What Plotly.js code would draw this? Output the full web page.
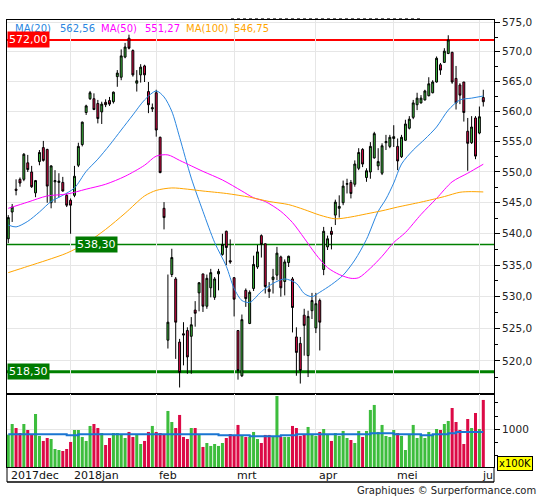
<!DOCTYPE html>
<html><head><meta charset="utf-8">
<script src="https://cdn.plot.ly/plotly-3.0.1.min.js"></script>
<style>html,body{margin:0;padding:0;background:#fff}#chart{width:545px;height:500px}</style>
</head><body><div id="chart"></div>
<script>
// ---- Data (AEX daily, Dec 2017 - Jun 2018) ----
const dates = [
'2017-12-06','2017-12-07','2017-12-08','2017-12-11','2017-12-12','2017-12-13','2017-12-14','2017-12-15','2017-12-18','2017-12-19','2017-12-20','2017-12-21','2017-12-22','2017-12-27','2017-12-28','2017-12-29',
'2018-01-02','2018-01-03','2018-01-04','2018-01-05','2018-01-08','2018-01-09','2018-01-10','2018-01-11','2018-01-12','2018-01-15','2018-01-16','2018-01-17','2018-01-18','2018-01-19','2018-01-22','2018-01-23','2018-01-24','2018-01-25','2018-01-26','2018-01-29','2018-01-30','2018-01-31',
'2018-02-01','2018-02-02','2018-02-05','2018-02-06','2018-02-07','2018-02-08','2018-02-09','2018-02-12','2018-02-13','2018-02-14','2018-02-15','2018-02-16','2018-02-19','2018-02-20','2018-02-21','2018-02-22','2018-02-23','2018-02-26','2018-02-27','2018-02-28',
'2018-03-01','2018-03-02','2018-03-05','2018-03-06','2018-03-07','2018-03-08','2018-03-09','2018-03-12','2018-03-13','2018-03-14','2018-03-15','2018-03-16','2018-03-19','2018-03-20','2018-03-21','2018-03-22','2018-03-23','2018-03-26','2018-03-27','2018-03-28','2018-03-29',
'2018-04-03','2018-04-04','2018-04-05','2018-04-06','2018-04-09','2018-04-10','2018-04-11','2018-04-12','2018-04-13','2018-04-16','2018-04-17','2018-04-18','2018-04-19','2018-04-20','2018-04-23','2018-04-24','2018-04-25','2018-04-26','2018-04-27','2018-04-30',
'2018-05-02','2018-05-03','2018-05-04','2018-05-07','2018-05-08','2018-05-09','2018-05-10','2018-05-11','2018-05-14','2018-05-15','2018-05-16','2018-05-17','2018-05-18','2018-05-21','2018-05-22','2018-05-23','2018-05-24','2018-05-25','2018-05-28','2018-05-29','2018-05-30','2018-05-31',
'2018-06-01','2018-06-04'];

const open = [539.2,543.5,547.2,548.8,548.8,551.5,550.0,546.6,551.7,554.0,553.7,545.0,548.4,548.3,548.3,546.2,
545.4,546.2,551.1,554.5,559.8,562.1,562.1,561.3,559.9,561.5,561.8,561.6,565.8,565.7,569.1,572.3,570.2,564.7,566.1,567.6,563.3,560.4,
563.1,555.7,544.1,523.2,533.5,532.8,522.9,524.2,524.7,523.8,527.9,530.6,533.6,528.5,531.4,529.9,533.6,536.7,540.4,535.7,
533.0,524.7,517.7,531.0,525.8,531.3,534.7,539.7,538.4,531.2,532.7,533.4,536.3,532.4,535.4,532.8,523.7,522.7,527.1,520.8,527.8,
525.1,529.4,534.3,537.9,540.4,543.0,544.1,545.0,548.0,548.3,548.0,550.6,553.7,549.1,550.0,552.3,551.0,549.8,554.8,554.2,
555.5,554.2,552.5,555.2,557.2,559.0,561.1,561.4,561.9,562.6,563.1,564.9,567.8,568.2,569.7,569.9,565.5,564.4,564.9,556.7,554.8,558.9,
556.4,562.3];
const high = [543.0,544.8,548.8,549.1,553.1,552.8,551.0,548.7,553.6,555.1,553.8,551.1,550.3,549.8,549.2,546.5,
545.7,551.0,554.8,558.3,561.1,563.4,563.0,561.9,561.6,562.0,562.4,563.3,566.9,570.4,571.5,572.9,570.4,566.9,567.9,567.8,564.9,561.3,
563.6,555.8,545.1,533.5,537.6,533.1,523.4,526.0,525.2,526.8,529.3,532.3,533.6,533.5,534.4,533.1,534.4,540.0,540.5,539.1,
533.1,524.7,527.2,531.3,531.0,536.5,538.2,539.9,538.4,532.3,534.4,537.9,536.5,535.9,536.5,533.1,525.2,523.7,528.1,527.8,530.6,
530.6,529.7,541.1,539.7,541.1,545.5,546.2,548.6,548.9,548.7,551.9,553.9,553.9,550.6,554.9,556.6,553.9,554.7,556.1,556.1,
557.7,555.5,556.1,558.6,559.2,561.9,563.1,562.7,563.6,565.7,565.2,569.2,568.1,570.6,572.8,570.0,567.6,564.7,564.9,558.9,559.2,559.2,
560.8,563.6];
const low = [538.5,541.9,546.2,547.6,548.5,550.0,547.4,545.9,551.1,551.7,545.0,544.1,545.0,545.9,546.8,544.3,
540.0,545.9,550.8,554.2,559.4,561.9,560.2,558.0,557.9,560.7,560.9,561.3,564.1,565.2,568.9,570.4,565.8,563.3,564.8,564.9,559.7,559.9,
555.8,549.8,540.7,521.9,533.1,520.3,515.9,519.3,518.0,518.0,525.3,527.7,527.6,528.1,529.9,529.5,531.0,536.5,535.0,535.2,
526.9,517.1,517.5,528.4,525.7,530.9,534.4,536.2,530.5,529.8,530.5,532.6,530.0,530.2,534.7,524.4,517.7,516.5,520.8,517.5,526.5,
524.3,521.6,533.4,537.4,537.5,541.4,542.6,544.6,546.5,545.7,547.6,550.3,550.8,548.4,548.9,552.2,550.3,549.5,553.6,553.9,
554.1,550.3,552.3,555.1,557.0,558.7,560.2,561.3,561.8,562.5,563.0,564.8,566.1,568.1,569.6,564.6,560.3,561.2,558.3,550.2,554.6,552.1,
556.2,560.8];
const close = [542.6,544.3,547.0,548.2,552.9,550.4,547.6,548.6,553.2,551.9,547.7,551.0,548.6,548.5,546.9,544.6,
544.6,549.3,554.2,558.2,560.9,563.1,560.3,558.8,561.2,561.1,561.2,563.2,566.4,569.3,570.8,570.6,566.1,565.1,567.4,566.1,561.1,560.6,
556.9,549.9,542.6,526.0,536.2,526.0,518.2,524.0,520.6,525.6,527.4,532.2,528.5,532.9,533.8,532.8,534.0,538.3,537.8,535.5,
529.6,518.5,526.4,529.7,530.7,535.1,537.1,538.3,531.6,530.8,533.1,536.9,531.4,535.5,536.4,528.3,521.3,518.5,525.5,526.9,529.4,
528.9,526.0,540.4,539.2,539.9,545.1,544.4,547.7,548.1,546.5,551.3,553.2,551.3,550.2,554.2,556.3,551.7,554.3,555.0,555.7,
555.8,551.8,555.7,557.9,558.7,561.4,562.2,562.2,563.4,564.6,564.9,568.9,566.9,570.1,572.0,564.9,561.4,562.7,559.8,554.7,557.4,552.6,
559.1,561.6];
// volume, in units of 100K
const volume = [900,1100,1025,931,1100,987,906,1288,875,781,837,818,630,611,592,630,
762,987,987,856,781,1063,1100,1025,931,705,837,931,931,900,837,950,856,900,724,781,950,1063,
950,931,900,1345,1138,1025,1270,856,818,1025,1025,900,668,743,687,724,687,743,837,912,
887,1082,887,856,856,950,818,743,894,894,856,1627,856,856,856,1063,1025,875,912,1044,912,
875,950,1006,912,781,931,875,969,837,799,743,969,856,969,1364,1458,950,1082,875,856,
987,931,875,611,912,1082,837,894,837,950,894,1006,987,1100,1157,1401,1138,987,724,1194,1025,1307,
1006,1552];

// moving averages (bar index, value)
const ma20Idx = [0,2,5,8,11,14,17,20,23,26,29,32,35,38,40,42,44,47,50,53,56,58,60,62,65,68,71,74,76,78,80,83,86,89,92,95,97,99,101,104,107,110,113,116,119,122];
const ma20 = [541.4,541.1,542.0,543.5,545.2,546.2,547.4,550.1,552.1,554.4,556.9,559.4,561.9,563.4,562.4,560.0,555.7,549.0,543.6,538.6,534.8,531.3,529.4,529.1,530.8,532.1,532.8,532.1,530.5,530.0,530.7,531.9,533.4,535.8,539.1,543.6,545.6,548.2,551.3,553.6,555.4,557.4,560.2,561.9,562.2,562.56];
const ma50Idx = [0,5,10,15,20,25,30,35,38,41,44,47,50,55,60,63,66,70,73,76,79,82,85,88,90,93,96,99,102,106,110,114,118,122];
const ma50 = [544.1,545.1,546.1,546.4,547.2,548.0,549.3,551.1,552.6,552.8,551.9,551.0,550.1,548.7,546.9,545.8,545.2,543.6,541.8,539.3,536.7,534.6,533.5,532.9,533.0,534.5,536.4,538.6,540.2,543.1,545.7,548.4,549.8,551.27];
const ma100Idx = [0,5,10,15,20,25,30,35,38,42,46,50,56,62,67,72,76,80,84,88,92,96,100,106,112,116,119,122];
const ma100 = [533.8,534.8,535.8,536.9,538.5,540.7,543.3,546.1,547.0,547.4,547.2,546.9,546.5,545.9,545.2,544.7,543.9,543.0,542.4,542.7,543.2,543.7,544.3,545.1,546.0,546.7,546.8,546.75];
const volMaIdx = [0,15,18,54,62,70,74,93,99,106,109,113,115,122];
const volMa = [906,887,906,887,868,887,906,925,906,887,906,925,950,950];

const maNames = ['MA(20)','MA(50)','MA(100)'];
const maLast = ['562,56','551,27','546,75'];
const levels = [572.00, 538.30, 518.30];
const levelLabels = ['572,00','538,30','518,30'];
const priceTicks = [520,525,530,535,540,545,550,555,560,565,570,575];
const priceMinor = [517.5,522.5,527.5,532.5,537.5,542.5,547.5,552.5,557.5,562.5,567.5,572.5];
const volTicks = [1000];
const volMinor = [500,750,1250,1500];
const monthStarts = ['2017-12-06','2018-01-02','2018-02-01','2018-03-01','2018-04-03','2018-05-02','2018-06-01'];
const monthLabels = ['2017dec','2018jan','feb','mrt','apr','mei','ju'];

// ---- Styling ----
const W = 545, H = 500, L = 7, R = 51, T = 20, B = 33;
const plotW = W - L - R, plotH = H - T - B;
const splitPx = 394; // border between price and volume panels
const volDom = (H - B - splitPx) / plotH;
const px2x = p => (p - L) / plotW;
const px2y = p => (H - B - p) / plotH;
const GREEN = '#3dbd3d', RED = '#dc0a46';
const maColors = ['#2a86e0', '#ff00ff', '#ffa500'];
const levelColors = ['#ff0000', '#008000', '#008000'];
const levelBg = ['#ff0000', '#007a00', '#007a00'];
const levelWidths = [2, 1.5, 3];
const levelLabelPx = [7, 75, 7];
const FONT = 'DejaVu Sans, Verdana, sans-serif';

const traces = [];
traces.push({
  type: 'candlestick', x: dates, open: open, high: high, low: low, close: close,
  xaxis: 'x', yaxis: 'y', whiskerwidth: 0, hoverinfo: 'skip', showlegend: false,
  increasing: {line: {color: '#000', width: 1}, fillcolor: GREEN},
  decreasing: {line: {color: '#000', width: 1}, fillcolor: RED}
});
[[ma20Idx, ma20], [ma50Idx, ma50], [ma100Idx, ma100]].forEach((m, k) => {
  traces.push({type: 'scatter', mode: 'lines', x: m[0].map(i => dates[i]), y: m[1],
    xaxis: 'x', yaxis: 'y', line: {color: maColors[k], width: 1, shape: 'spline', smoothing: 0.8},
    hoverinfo: 'skip', showlegend: false});
});
traces.push({
  type: 'bar', x: dates, y: volume, xaxis: 'x', yaxis: 'y2',
  marker: {color: close.map((c, i) => c >= open[i] ? GREEN : RED), line: {width: 0}},
  hoverinfo: 'skip', showlegend: false
});
traces.push({type: 'scatter', mode: 'lines', x: volMaIdx.map(i => dates[i]), y: volMa,
  xaxis: 'x', yaxis: 'y2', line: {color: '#1a75d2', width: 2, shape: 'hv'},
  hoverinfo: 'skip', showlegend: false});

const shapes = [];
levels.forEach((v, k) => {
  shapes.push({type: 'line', xref: 'paper', yref: 'y', x0: 0, x1: 1, y0: v, y1: v,
    line: {color: levelColors[k], width: levelWidths[k]}, layer: 'between'});
});
// date strip frame below the volume panel
const yStrip = px2y(482);
shapes.push({type: 'line', xref: 'paper', yref: 'paper', x0: 0, x1: 0, y0: 0, y1: yStrip, line: {color: '#000', width: 1}});
shapes.push({type: 'line', xref: 'paper', yref: 'paper', x0: 1, x1: 1, y0: 0, y1: yStrip, line: {color: '#000', width: 1}});
shapes.push({type: 'line', xref: 'paper', yref: 'paper', x0: 0, x1: 1, y0: yStrip, y1: yStrip, line: {color: '#000', width: 1.5}});
shapes.push({type: 'line', xref: 'paper', yref: 'paper', x0: px2x(231), x1: px2x(421), y0: px2y(18.5), y1: px2y(18.5), line: {color: '#666', width: 1, dash: 'dot'}});

const annotations = [];
const legendPx = [13, 58, 99, 143, 184, 232];
maNames.forEach((n, k) => {
  annotations.push({xref: 'paper', yref: 'paper', x: px2x(legendPx[2 * k]), y: px2y(28), xanchor: 'left', yanchor: 'middle',
    text: n, showarrow: false, font: {family: FONT, size: 10, color: maColors[k]}});
  annotations.push({xref: 'paper', yref: 'paper', x: px2x(legendPx[2 * k + 1]), y: px2y(28), xanchor: 'left', yanchor: 'middle',
    text: maLast[k], showarrow: false, font: {family: FONT, size: 10, color: maColors[k]}});
});
levels.forEach((v, k) => {
  annotations.push({xref: 'paper', yref: 'y', x: px2x(levelLabelPx[k]), y: Math.log10(v), xanchor: 'left', yanchor: 'middle',
    text: levelLabels[k], showarrow: false, bgcolor: levelBg[k], borderpad: 1,
    font: {family: FONT, size: 11, color: '#fff'}});
});
monthStarts.forEach((d, k) => {
  annotations.push({xref: 'x', yref: 'paper', x: dates.indexOf(d), y: px2y(475), xanchor: 'left', yanchor: 'middle',
    xshift: k === 0 ? 1 : 1, text: monthLabels[k], showarrow: false, font: {family: FONT, size: 11, color: '#111'}});
});
annotations.push({xref: 'paper', yref: 'paper', x: px2x(497), y: px2y(463.5), xanchor: 'left', yanchor: 'middle',
  text: 'x100K', showarrow: false, bgcolor: '#ffff00', bordercolor: '#000', borderwidth: 1, borderpad: 1,
  font: {family: FONT, size: 10, color: '#000'}});
annotations.push({xref: 'paper', yref: 'paper', x: px2x(538), y: px2y(491), xanchor: 'right', yanchor: 'middle',
  text: 'Graphiques © Surperformance.com', showarrow: false, font: {family: FONT, size: 10, color: '#222'}});

const layout = {
  width: W, height: H, margin: {l: L, r: R, t: T, b: B, pad: 0},
  paper_bgcolor: '#fff', plot_bgcolor: '#fff', showlegend: false, dragmode: false,
  font: {family: FONT, size: 10, color: '#222'},
  xaxis: {type: 'category', range: [-0.33, 124.75], domain: [0, 1], anchor: 'y',
    tickvals: monthStarts.slice(1), showticklabels: false, ticks: '',
    showgrid: true, gridcolor: '#e6e6e6', gridwidth: 1, zeroline: false,
    showline: true, linecolor: '#000', linewidth: 1, mirror: 'all',
    rangeslider: {visible: false}, fixedrange: true},
  yaxis: {type: 'log', domain: [volDom, 1], anchor: 'x', side: 'right',
    range: [Math.log10(514.9), Math.log10(575.4)],
    tickvals: priceTicks, ticktext: priceTicks.map(v => v.toFixed(1).replace('.', ',')),
    ticks: 'outside', ticklen: 5, tickcolor: '#000', tickwidth: 1,
    tickfont: {family: FONT, size: 10.5, color: '#222'},
    minor: {tickvals: priceMinor, ticklen: 3, tickcolor: '#000', showgrid: false},
    showgrid: true, gridcolor: '#e6e6e6', zeroline: false,
    showline: true, linecolor: '#000', linewidth: 1, mirror: true, fixedrange: true},
  yaxis2: {domain: [0, volDom], anchor: 'x', side: 'right', range: [291, 1664],
    tickvals: volTicks, ticktext: volTicks.map(String),
    ticks: 'outside', ticklen: 5, tickcolor: '#000',
    tickfont: {family: FONT, size: 10.5, color: '#222'},
    minor: {tickvals: volMinor, ticklen: 3, tickcolor: '#000', showgrid: false},
    showgrid: true, gridcolor: '#e6e6e6', zeroline: false,
    showline: true, linecolor: '#000', linewidth: 1, mirror: true, fixedrange: true},
  bargap: 0.22,
  shapes: shapes, annotations: annotations
};
Plotly.newPlot('chart', traces, layout, {staticPlot: true, displayModeBar: false});
</script></body></html>
